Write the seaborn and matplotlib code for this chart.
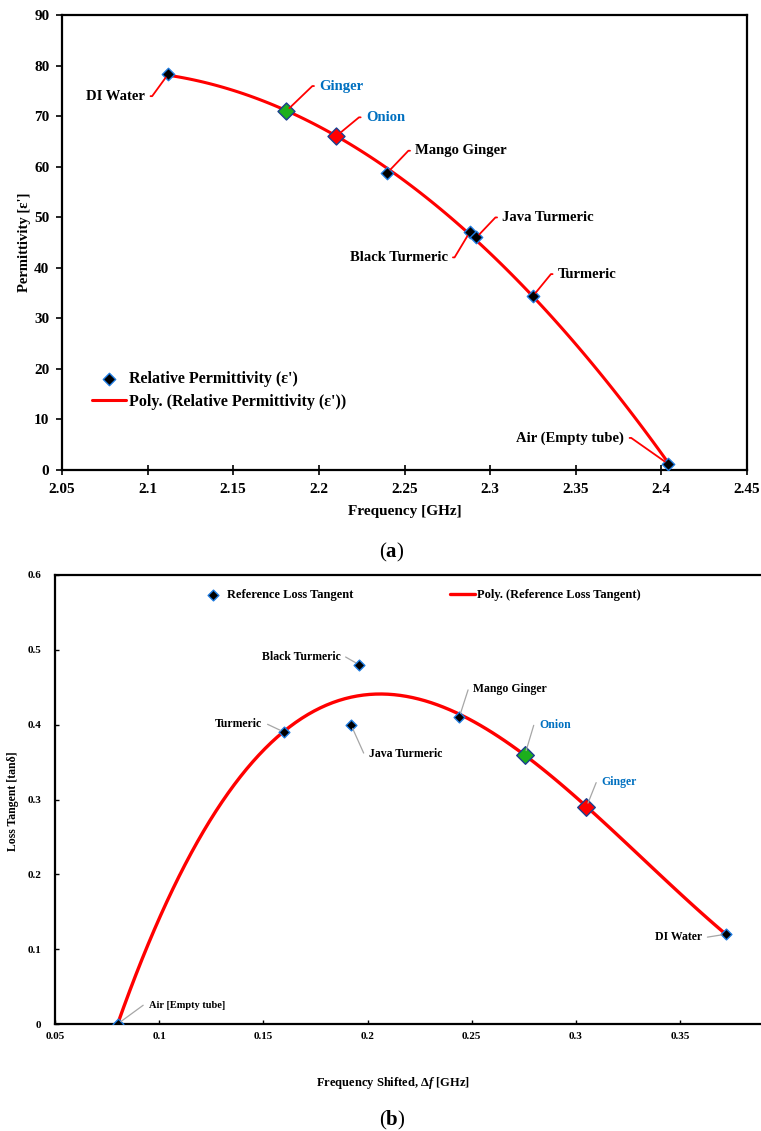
import numpy as np
import pandas as pd
import matplotlib
matplotlib.use("Agg")
import matplotlib.pyplot as plt
import seaborn as sns

# ---------------- (a) relative permittivity vs resonant frequency ----------------
samples_a = ["DI Water", "Ginger", "Onion", "Mango Ginger",
             "Black Turmeric", "Java Turmeric", "Turmeric", "Air (Empty tube)"]
freq_a = [2.112, 2.181, 2.210, 2.240, 2.288, 2.292, 2.325, 2.404]      # GHz
perm_a = [78.3, 71.0, 66.0, 58.8, 47.0, 46.0, 34.4, 1.2]               # eps'
xticks_a = [2.05, 2.10, 2.15, 2.20, 2.25, 2.30, 2.35, 2.40, 2.45]
xticklabels_a = ["2.05", "2.1", "2.15", "2.2", "2.25", "2.3", "2.35", "2.4", "2.45"]
yticks_a = [0, 10, 20, 30, 40, 50, 60, 70, 80, 90]

# ---------------- (b) loss tangent vs frequency shift ----------------
samples_b = ["Air [Empty tube]", "Turmeric", "Java Turmeric", "Black Turmeric",
             "Mango Ginger", "Onion", "Ginger", "DI Water"]
shift_b = [0.080, 0.160, 0.192, 0.196, 0.244, 0.2755, 0.305, 0.372]   # GHz
loss_b = [0.0, 0.39, 0.40, 0.48, 0.41, 0.36, 0.29, 0.12]               # tan(delta)
xticks_b = [0.05, 0.10, 0.15, 0.20, 0.25, 0.30, 0.35]
xticklabels_b = ["0.05", "0.1", "0.15", "0.2", "0.25", "0.3", "0.35"]
yticks_b = [0.0, 0.1, 0.2, 0.3, 0.4, 0.5, 0.6]
yticklabels_b = ["0", "0.1", "0.2", "0.3", "0.4", "0.5", "0.6"]

# ---------------- styling ----------------
RED = "#FF0000"
GREEN = "#1DAF1D"
BLUE_TXT = "#0070C0"
EDGE_BLUE = "#1E7BE0"
EDGE_NAVY = "#1B3F8F"
GREY_LEADER = "#A6A6A6"

highlight_a = {"Ginger": GREEN, "Onion": RED}
highlight_b = {"Onion": GREEN, "Ginger": RED}

sns.set_style("ticks")
plt.rcParams.update({
    "font.family": ["Liberation Serif", "DejaVu Serif"],
    "font.weight": "bold",
    "axes.labelweight": "bold",
    "text.color": "black",
    "axes.labelcolor": "black",
    "xtick.color": "black",
    "ytick.color": "black",
    "mathtext.fontset": "custom",
    "mathtext.rm": "Liberation Serif",
    "mathtext.bf": "Liberation Serif:bold",
    "mathtext.it": "Liberation Serif:italic:bold",
})

W, H = 761, 1131
fig = plt.figure(figsize=(W / 100, H / 100), dpi=100)


def axes_px(left, top, right, bottom):
    return fig.add_axes([left / W, 1 - bottom / H, (right - left) / W, (bottom - top) / H])


def text_px(x, y, s, **kw):
    fig.text(x / W, 1 - y / H, s, ha="center", va="center", color="black", **kw)


def leader(ax, label, x, y, dx, dy, color, line_color, size, lw, hook=7):
    """Label offset by (dx, dy) pixels with an elbow leader line back to (x, y)."""
    s = 1 if dx > 0 else -1
    angle_b = np.degrees(np.arctan2(dy, dx - s * hook))
    ax.annotate(
        label, xy=(x, y), xytext=(dx * 0.72, dy * 0.72), textcoords="offset points",
        ha="left" if dx > 0 else "right", va="center", fontsize=size,
        color=color, fontweight="bold", zorder=5,
        arrowprops=dict(arrowstyle="-", color=line_color, lw=lw, shrinkA=1.5, shrinkB=3,
                        relpos=(0 if dx > 0 else 1, 0.5),
                        connectionstyle=f"angle,angleA=0,angleB={angle_b:.2f},rad=0"),
    )


# ======================= panel (a) =======================
ax_a = axes_px(62, 15, 747, 470)
df_a = pd.DataFrame({"sample": samples_a, "freq": freq_a, "perm": perm_a})
base_a = df_a[~df_a["sample"].isin(highlight_a)]

sns.scatterplot(data=base_a, x="freq", y="perm", marker="D", s=40, color="black",
                edgecolor=EDGE_BLUE, linewidth=1.0, zorder=4,
                label="Relative Permittivity (\u03b5')", ax=ax_a)
sns.regplot(data=df_a, x="freq", y="perm", order=2, ci=None, scatter=False,
            truncate=True, color=RED, line_kws={"lw": 2.2, "zorder": 3},
            label="Poly. (Relative Permittivity (\u03b5'))", ax=ax_a)
for name, col in highlight_a.items():
    sns.scatterplot(data=df_a[df_a["sample"] == name], x="freq", y="perm", marker="D",
                    s=75, color=col, edgecolor=EDGE_NAVY, linewidth=1.0, zorder=4,
                    legend=False, ax=ax_a)

ax_a.set_xlim(2.05, 2.45)
ax_a.set_ylim(0, 90)
ax_a.set_xticks(xticks_a)
ax_a.set_xticklabels(xticklabels_a)
ax_a.set_yticks(yticks_a)
ax_a.set_xlabel("")
ax_a.set_ylabel("")
ax_a.tick_params(axis="x", direction="inout", length=7, width=1.2, pad=6, labelsize=11)
ax_a.tick_params(axis="y", direction="out", length=4, width=1.2, pad=5, labelsize=11)
for sp in ax_a.spines.values():
    sp.set_linewidth(1.6)
    sp.set_color("black")
    sp.set_visible(True)

leaders_a = {
    "DI Water": (-23, -22), "Ginger": (33, 25), "Onion": (30, 19),
    "Mango Ginger": (28, 22), "Black Turmeric": (-22, -25),
    "Java Turmeric": (26, 20), "Turmeric": (25, 22), "Air (Empty tube)": (-44, 26),
}
for name, fx, py in zip(samples_a, freq_a, perm_a):
    dx, dy = leaders_a[name]
    leader(ax_a, name, fx, py, dx, dy,
           BLUE_TXT if name in highlight_a else "black", RED, 10.5, 1.3, hook=7)

handles, labels = ax_a.get_legend_handles_labels()
ax_a.legend(handles, labels, loc="upper left", bbox_to_anchor=(0.044, 0.218),
            frameon=False, fontsize=11.5, handlelength=2.1, handletextpad=0.2,
            labelspacing=0.45, borderpad=0, borderaxespad=0)

text_px(25, 242, "Permittivity [\u03b5']", rotation=90, fontsize=10.5, fontweight="bold")
text_px(405, 512, "Frequency [GHz]", fontsize=11, fontweight="bold")
text_px(392, 552, r"($\mathbf{a}$)", fontsize=15, fontweight="normal")

# ======================= panel (b) =======================
ax_b = axes_px(55, 575, 784.4, 1024)
df_b = pd.DataFrame({"sample": samples_b, "shift": shift_b, "loss": loss_b})
base_b = df_b[~df_b["sample"].isin(highlight_b)]

sns.scatterplot(data=base_b, x="shift", y="loss", marker="D", s=30, color="black",
                edgecolor=EDGE_BLUE, linewidth=1.0, zorder=4,
                label="Reference Loss Tangent", ax=ax_b)
sns.regplot(data=df_b, x="shift", y="loss", order=3, ci=None, scatter=False,
            truncate=True, color=RED, line_kws={"lw": 2.4, "zorder": 3},
            label="Poly. (Reference Loss Tangent)", ax=ax_b)
for name, col in highlight_b.items():
    sns.scatterplot(data=df_b[df_b["sample"] == name], x="shift", y="loss", marker="D",
                    s=80, color=col, edgecolor=EDGE_NAVY, linewidth=1.0, zorder=4,
                    legend=False, ax=ax_b)

ax_b.set_xlim(0.05, 0.40)
ax_b.set_ylim(0, 0.6)
ax_b.set_xticks(xticks_b)
ax_b.set_xticklabels(xticklabels_b)
ax_b.set_yticks(yticks_b)
ax_b.set_yticklabels(yticklabels_b)
ax_b.set_xlabel("")
ax_b.set_ylabel("")
ax_b.tick_params(axis="both", direction="in", length=3, width=1.0, labelsize=8)
ax_b.tick_params(axis="x", pad=6)
ax_b.tick_params(axis="y", pad=10)
for sp in ax_b.spines.values():
    sp.set_linewidth(1.6)
    sp.set_color("black")
    sp.set_visible(True)

leaders_b = {
    "Air [Empty tube]": (31, 19), "Turmeric": (-22, 8), "Java Turmeric": (18, -29),
    "Black Turmeric": (-19, 8), "Mango Ginger": (14, 28), "Onion": (14, 30),
    "Ginger": (15, 25), "DI Water": (-24, -3),
}
leader_size_b = {"Air [Empty tube]": 7.5}
for name, sx, lv in zip(samples_b, shift_b, loss_b):
    dx, dy = leaders_b[name]
    leader(ax_b, name, sx, lv, dx, dy,
           BLUE_TXT if name in highlight_b else "black", GREY_LEADER,
           leader_size_b.get(name, 8.5), 0.9, hook=5)

handles, labels = ax_b.get_legend_handles_labels()
ax_b.legend(handles, labels, loc="upper left", bbox_to_anchor=(0.199, 0.969), ncol=2,
            frameon=False, fontsize=9, handlelength=2.0, handletextpad=0.15,
            columnspacing=7.7, borderpad=0, borderaxespad=0)

text_px(13, 801, "Loss Tangent [tan\u03b4]", rotation=90, fontsize=8.5, fontweight="bold")
text_px(393, 1083, r"Frequency Shifted, $\Delta\mathit{f}$ [GHz]", fontsize=9, fontweight="bold")
text_px(392, 1120, r"($\mathbf{b}$)", fontsize=15, fontweight="normal")

fig.savefig("out.png", dpi=100)
